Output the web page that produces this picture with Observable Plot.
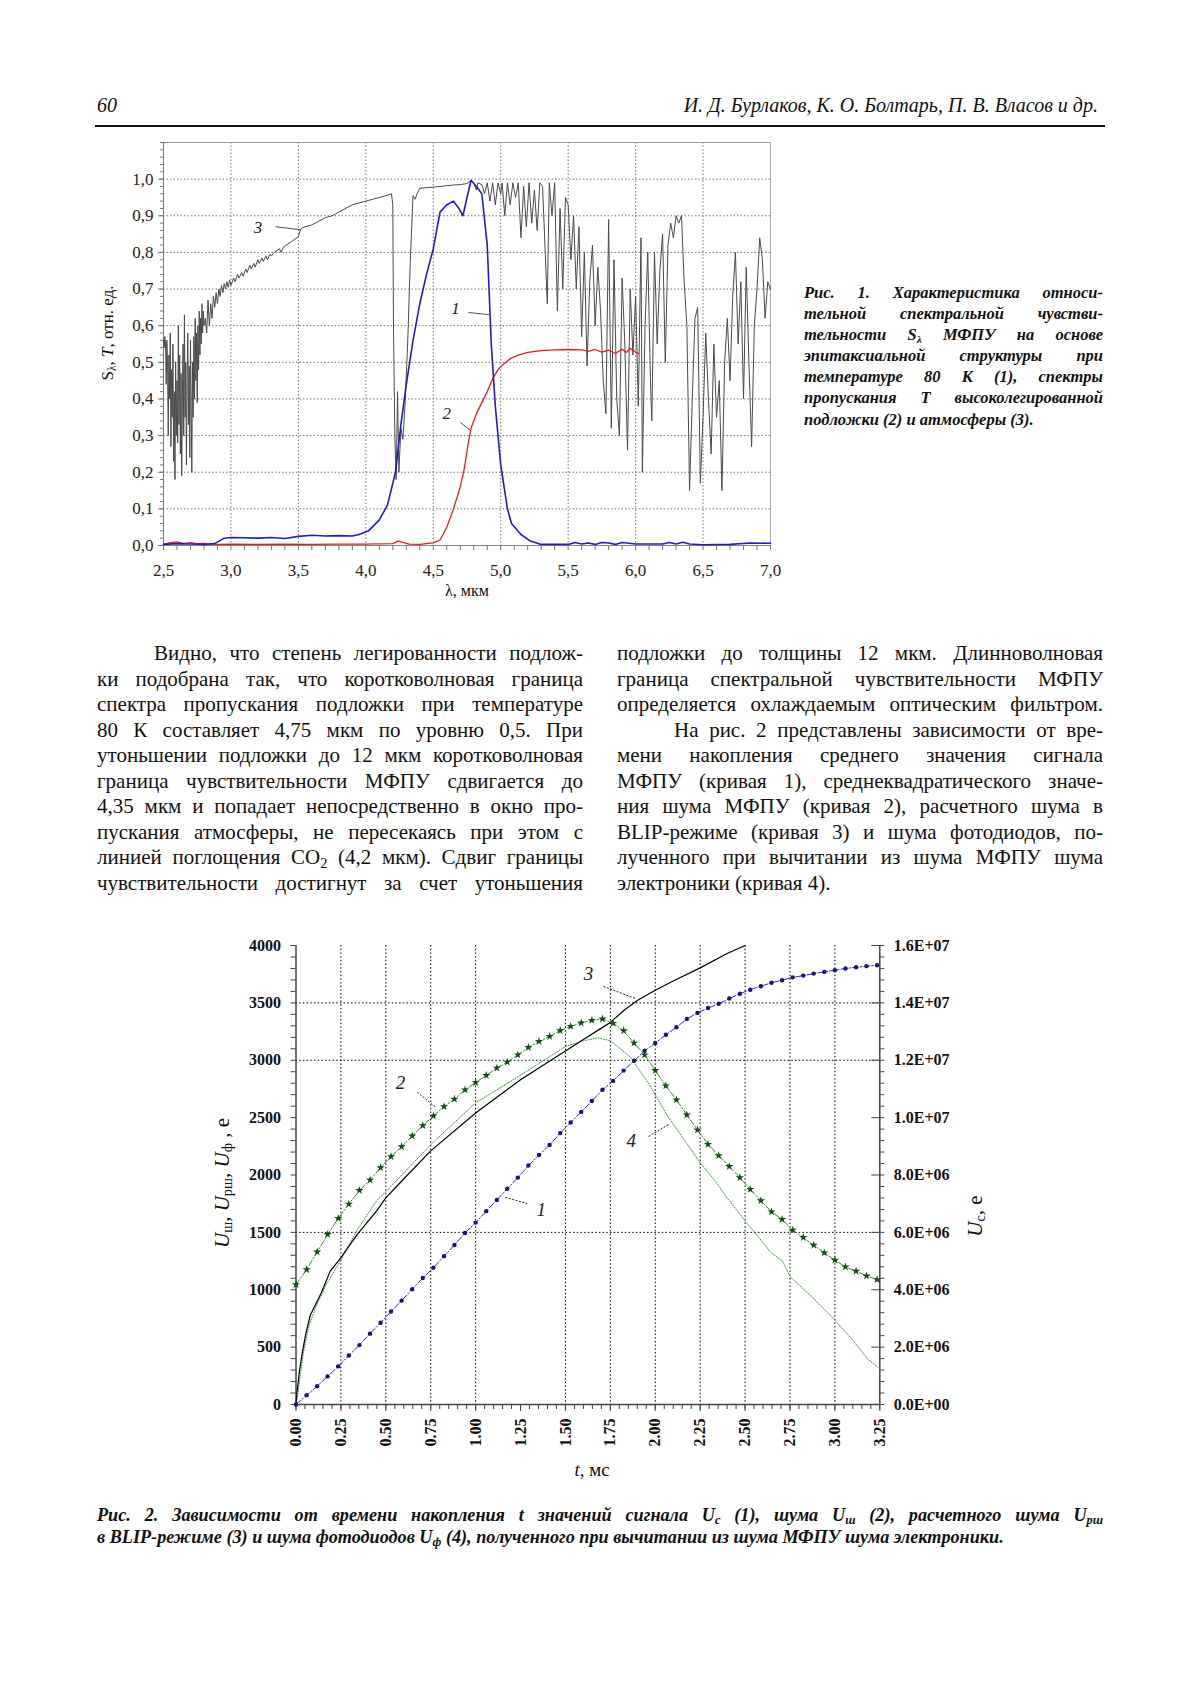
<!DOCTYPE html>
<html><head><meta charset="utf-8">
<script src="https://cdn.jsdelivr.net/npm/d3@7"></script>
<script src="https://cdn.jsdelivr.net/npm/@observablehq/plot@0.6"></script>
<style>
html,body{margin:0;padding:0;background:#fff;}
#page{position:relative;width:1200px;height:1698px;background:#fff;font-family:"Liberation Serif","Times New Roman",serif;color:#111;overflow:hidden;}
.abs{position:absolute;}
.hdr{font-style:italic;font-size:20px;line-height:20px;white-space:nowrap;}
.rule{position:absolute;left:95px;top:125px;width:1010px;height:1.5px;background:#111;}
.col{position:absolute;width:486px;font-size:21px;line-height:25.5px;}
.j{text-align:justify;text-align-last:justify;}
.l{text-align:left;}
.ind{padding-left:57px;}
.cap1{position:absolute;left:804px;top:282px;width:299px;font-size:16.5px;line-height:21.1px;font-weight:bold;font-style:italic;}
.cap2{position:absolute;left:97px;top:1505px;width:1006px;font-size:18.2px;line-height:21.5px;font-weight:bold;font-style:italic;}
.rot{position:absolute;white-space:nowrap;transform:translate(-50%,-50%) rotate(-90deg);}
sub{font-size:0.68em;vertical-align:-0.25em;line-height:0;}
.chart{position:absolute;}
</style></head>
<body><div id="page">
<div class="abs hdr" style="left:97px;top:95px;">60</div>
<div class="abs hdr" style="left:500px;top:95px;width:598px;text-align:right;">И. Д. Бурлаков, К. О. Болтарь, П. В. Власов и др.</div>
<div class="rule"></div>

<div id="chart1" class="chart" style="left:80px;top:120px;"></div>
<div class="rot" style="left:108px;top:333px;font-size:17px;">S<sub>λ</sub>, <i>T</i>, отн. ед.</div>
<div class="abs" style="left:467px;top:591px;transform:translate(-50%,-50%);font-size:16px;white-space:nowrap;">λ, мкм</div>

<div class="cap1">
<div class="j">Рис. 1. Характеристика относи-</div>
<div class="j">тельной спектральной чувстви-</div>
<div class="j">тельности S<sub>λ</sub> МФПУ на основе</div>
<div class="j">эпитаксиальной структуры при</div>
<div class="j">температуре 80 К (1), спектры</div>
<div class="j">пропускания T высоколегированной</div>
<div class="l">подложки (2) и атмосферы (3).</div>
</div>

<div class="col" style="left:97px;top:641px;">
<div class="j ind">Видно, что степень легированности подлож-</div>
<div class="j">ки подобрана так, что коротковолновая граница</div>
<div class="j">спектра пропускания подложки при температуре</div>
<div class="j">80 К составляет 4,75 мкм по уровню 0,5. При</div>
<div class="j">утоньшении подложки до 12 мкм коротковолновая</div>
<div class="j">граница чувствительности МФПУ сдвигается до</div>
<div class="j">4,35 мкм и попадает непосредственно в окно про-</div>
<div class="j">пускания атмосферы, не пересекаясь при этом с</div>
<div class="j">линией поглощения CO<sub>2</sub> (4,2 мкм). Сдвиг границы</div>
<div class="j">чувствительности достигнут за счет утоньшения</div>
</div>
<div class="col" style="left:617px;top:641px;">
<div class="j">подложки до толщины 12 мкм. Длинноволновая</div>
<div class="j">граница спектральной чувствительности МФПУ</div>
<div class="j">определяется охлаждаемым оптическим фильтром.</div>
<div class="j ind">На рис. 2 представлены зависимости от вре-</div>
<div class="j">мени накопления среднего значения сигнала</div>
<div class="j">МФПУ (кривая 1), среднеквадратического значе-</div>
<div class="j">ния шума МФПУ (кривая 2), расчетного шума в</div>
<div class="j">BLIP-режиме (кривая 3) и шума фотодиодов, по-</div>
<div class="j">лученного при вычитании из шума МФПУ шума</div>
<div class="l">электроники (кривая 4).</div>
</div>

<div id="chart2" class="chart" style="left:180px;top:920px;"></div>
<div class="rot" style="left:222px;top:1183px;font-size:21px;"><i>U</i><sub>ш</sub>, <i>U</i><sub>рш</sub>, <i>U</i><sub>ф</sub> , e</div>
<div class="rot" style="left:975px;top:1216px;font-size:21px;"><i>U</i><sub>с</sub>, e</div>
<div class="abs" style="left:592px;top:1470px;transform:translate(-50%,-50%);font-size:19px;white-space:nowrap;"><i>t</i>, мс</div>

<div class="cap2">
<div class="j">Рис. 2. Зависимости от времени накопления t значений сигнала U<sub>с</sub> (1), шума U<sub>ш</sub> (2), расчетного шума U<sub>рш</sub></div>
<div class="l">в BLIP-режиме (3) и шума фотодиодов U<sub>ф</sub> (4), полученного при вычитании из шума МФПУ шума электроники.</div>
</div>
</div>
<script>
// ---------- Chart 1 data ----------
const xTicks1 = [2.5,3.0,3.5,4.0,4.5,5.0,5.5,6.0,6.5,7.0];
const xTickLabels1 = ["2,5","3,0","3,5","4,0","4,5","5,0","5,5","6,0","6,5","7,0"];
const yTicks1 = [0,0.1,0.2,0.3,0.4,0.5,0.6,0.7,0.8,0.9,1.0];
const yTickLabels1 = ["0,0","0,1","0,2","0,3","0,4","0,5","0,6","0,7","0,8","0,9","1,0"];

// curve 1: spectral sensitivity S_lambda (blue)
const sensitivity = [[2.5,0.003],[2.6,0.005],[2.7,0.004],[2.8,0.003],[2.88,0.005],[2.95,0.02],[3.0,0.022],[3.1,0.021],[3.2,0.02],[3.3,0.022],[3.4,0.019],[3.5,0.025],[3.6,0.028],[3.7,0.026],[3.8,0.027],[3.9,0.026],[3.95,0.03],[4.02,0.04],[4.1,0.07],[4.16,0.11],[4.22,0.2],[4.26,0.33],[4.3,0.44],[4.35,0.56],[4.4,0.66],[4.45,0.74],[4.5,0.81],[4.55,0.91],[4.6,0.93],[4.65,0.94],[4.69,0.92],[4.72,0.9],[4.75,0.95],[4.78,0.997],[4.82,0.98],[4.86,0.96],[4.9,0.82],[4.93,0.55],[4.96,0.38],[5.0,0.22],[5.05,0.1],[5.08,0.06],[5.15,0.03],[5.22,0.012],[5.3,0.003],[5.5,0.003],[5.55,0.008],[5.6,0.004],[5.65,0.007],[5.7,0.003],[5.75,0.008],[5.8,0.007],[5.85,0.003],[5.9,0.008],[6.0,0.004],[6.2,0.004],[6.25,0.008],[6.3,0.004],[6.35,0.009],[6.4,0.004],[6.5,0.002],[6.7,0.003],[6.85,0.007],[7.0,0.006]];

// curve 2: substrate transmission T (red)
const substrate = [[2.5,0.004],[2.55,0.008],[2.6,0.01],[2.65,0.006],[2.7,0.008],[2.75,0.005],[2.8,0.006],[2.85,0.004],[2.9,0.003],[3.0,0.004],[3.2,0.003],[3.4,0.004],[3.6,0.003],[3.8,0.004],[4.0,0.004],[4.2,0.005],[4.24,0.012],[4.28,0.008],[4.32,0.004],[4.4,0.003],[4.45,0.005],[4.5,0.007],[4.55,0.015],[4.6,0.05],[4.65,0.1],[4.7,0.16],[4.73,0.21],[4.76,0.28],[4.78,0.32],[4.82,0.36],[4.86,0.39],[4.9,0.42],[4.94,0.455],[4.98,0.48],[5.02,0.495],[5.07,0.51],[5.12,0.518],[5.2,0.527],[5.3,0.532],[5.4,0.534],[5.5,0.535],[5.6,0.534],[5.65,0.53],[5.7,0.535],[5.75,0.528],[5.8,0.533],[5.85,0.524],[5.9,0.536],[5.93,0.527],[5.96,0.538],[6.0,0.528],[6.02,0.524]];

// curve 3: atmosphere transmission (gray)
const atmosphere = [[2.500,0.56],[2.505,0.54],[2.510,0.57],[2.515,0.55],[2.520,0.44],[2.525,0.56],[2.530,0.50],[2.535,0.30],[2.540,0.52],[2.545,0.40],[2.550,0.58],[2.555,0.27],[2.560,0.48],[2.565,0.35],[2.570,0.55],[2.575,0.23],[2.580,0.42],[2.585,0.18],[2.590,0.50],[2.595,0.30],[2.600,0.45],[2.605,0.28],[2.610,0.60],[2.615,0.33],[2.620,0.52],[2.625,0.25],[2.630,0.47],[2.635,0.19],[2.640,0.40],[2.645,0.55],[2.650,0.30],[2.655,0.63],[2.660,0.35],[2.665,0.50],[2.670,0.22],[2.675,0.45],[2.680,0.58],[2.685,0.33],[2.690,0.49],[2.695,0.24],[2.700,0.56],[2.705,0.38],[2.710,0.20],[2.715,0.50],[2.720,0.35],[2.725,0.57],[2.730,0.40],[2.735,0.62],[2.740,0.45],[2.745,0.58],[2.750,0.39],[2.755,0.60],[2.760,0.48],[2.765,0.64],[2.770,0.52],[2.775,0.62],[2.780,0.55],[2.785,0.66],[2.790,0.58],[2.795,0.64],[2.800,0.60],
[2.81,0.62],[2.82,0.58],[2.83,0.67],[2.84,0.60],[2.85,0.66],[2.86,0.62],[2.87,0.68],[2.88,0.65],[2.89,0.69],[2.90,0.66],[2.91,0.70],[2.92,0.68],[2.93,0.71],[2.94,0.69],[2.95,0.715],[2.96,0.70],[2.97,0.72],[2.98,0.705],[2.99,0.725],[3.00,0.71],[3.02,0.73],[3.03,0.72],[3.05,0.74],[3.06,0.73],[3.08,0.745],[3.09,0.735],[3.11,0.755],[3.12,0.745],[3.14,0.765],[3.15,0.755],[3.17,0.77],[3.18,0.76],[3.20,0.78],[3.21,0.77],[3.23,0.785],[3.24,0.775],[3.26,0.79],[3.27,0.78],[3.29,0.795],[3.30,0.79],[3.32,0.80],[3.34,0.805],[3.36,0.81],[3.37,0.80],[3.39,0.815],[3.41,0.82],[3.43,0.825],[3.45,0.83],[3.47,0.835],[3.49,0.84],[3.50,0.845],[3.52,0.865],[3.55,0.87],[3.60,0.875],[3.65,0.885],[3.70,0.895],[3.75,0.90],[3.80,0.91],[3.85,0.92],[3.90,0.93],[3.95,0.935],[4.00,0.94],[4.05,0.945],[4.10,0.95],[4.15,0.955],[4.19,0.96],
[4.20,0.93],[4.205,0.6],[4.215,0.3],[4.225,0.18],[4.235,0.42],[4.245,0.2],[4.26,0.32],[4.275,0.29],[4.29,0.38],[4.31,0.55],[4.33,0.78],[4.35,0.955],[4.365,0.945],[4.38,0.96],[4.40,0.975],[4.45,0.977],[4.50,0.978],[4.55,0.98],[4.60,0.982],[4.65,0.984],[4.70,0.985],[4.75,0.988],[4.78,0.997],[4.80,0.99],[4.82,0.97],[4.83,0.99],[4.86,0.985],[4.88,0.96],[4.90,0.99],[4.92,0.94],[4.94,0.99],[4.96,0.93],[4.98,0.99],[5.00,0.96],[5.01,0.99],[5.03,0.90],[5.05,0.99],[5.07,0.93],[5.09,0.99],[5.11,0.95],[5.13,0.99],[5.15,0.84],[5.17,0.98],[5.19,0.87],[5.21,0.99],[5.23,0.88],[5.25,0.97],[5.27,0.86],[5.29,0.99],[5.31,0.98],[5.33,0.80],[5.345,0.66],[5.36,0.99],[5.38,0.90],[5.40,0.99],[5.42,0.64],[5.44,0.92],[5.46,0.70],[5.48,0.95],[5.50,0.93],[5.52,0.78],[5.54,0.90],[5.56,0.70],[5.58,0.87],[5.60,0.57],[5.62,0.80],[5.64,0.49],[5.66,0.72],[5.68,0.82],[5.70,0.60],[5.72,0.76],[5.74,0.64],[5.76,0.45],[5.78,0.36],[5.80,0.89],[5.82,0.32],[5.84,0.78],[5.86,0.40],[5.88,0.30],[5.90,0.73],[5.92,0.55],[5.94,0.26],[5.96,0.70],[5.98,0.52],[6.00,0.68],[6.02,0.38],[6.04,0.84],[6.05,0.20],[6.07,0.60],[6.09,0.80],[6.11,0.45],[6.12,0.34],[6.14,0.80],[6.16,0.55],[6.18,0.75],[6.20,0.85],[6.22,0.50],[6.24,0.82],[6.26,0.88],[6.28,0.84],[6.30,0.90],[6.32,0.88],[6.34,0.90],[6.36,0.72],[6.38,0.60],[6.40,0.15],[6.42,0.40],[6.44,0.62],[6.46,0.65],[6.48,0.17],[6.50,0.35],[6.52,0.58],[6.54,0.40],[6.56,0.25],[6.58,0.55],[6.60,0.35],[6.62,0.45],[6.64,0.15],[6.66,0.50],[6.68,0.62],[6.70,0.45],[6.72,0.68],[6.74,0.80],[6.76,0.55],[6.78,0.72],[6.80,0.40],[6.82,0.76],[6.84,0.50],[6.86,0.27],[6.88,0.60],[6.90,0.70],[6.92,0.84],[6.94,0.78],[6.96,0.62],[6.98,0.72],[7.00,0.70]];

const labels1 = [{x:3.20,y:0.867,text:"3"},{x:4.665,y:0.646,text:"1"},{x:4.60,y:0.359,text:"2"}];
const leaders1 = [{x1:3.33,y1:0.87,x2:3.516,y2:0.862},{x1:4.761,y1:0.636,x2:4.915,y2:0.63},{x1:4.70,y1:0.336,x2:4.776,y2:0.314}];

// ---------- Chart 2 data ----------
const xTicks2 = [0,0.25,0.5,0.75,1.0,1.25,1.5,1.75,2.0,2.25,2.5,2.75,3.0,3.25];
const xTickLabels2 = ["0.00","0.25","0.50","0.75","1.00","1.25","1.50","1.75","2.00","2.25","2.50","2.75","3.00","3.25"];
const yTicks2 = [0,500,1000,1500,2000,2500,3000,3500,4000];
const yTickLabels2 = ["0","500","1000","1500","2000","2500","3000","3500","4000"];
const yRightLabels2 = ["0.0E+00","2.0E+06","4.0E+06","6.0E+06","8.0E+06","1.0E+07","1.2E+07","1.4E+07","1.6E+07"];
const gridT2 = [0.25,0.5,0.75,1.0,1.5,1.75,2.0,2.25,2.5,2.75,3.0];
const gridU2 = [1500,3000,3500];

// sampling times, ms
const tMs = [0.000,0.059,0.118,0.176,0.235,0.294,0.353,0.412,0.471,0.529,0.588,0.647,0.706,0.765,0.824,0.882,0.941,1.000,1.059,1.118,1.176,1.235,1.294,1.353,1.412,1.471,1.529,1.588,1.647,1.706,1.765,1.824,1.882,1.941,2.000,2.059,2.118,2.176,2.235,2.294,2.353,2.412,2.471,2.529,2.588,2.647,2.706,2.765,2.824,2.882,2.941,3.000,3.059,3.118,3.176,3.235];
// curve 1: signal U_c, millions of e (right axis)
const signalMillions = [0,0.32,0.64,0.98,1.33,1.71,2.07,2.47,2.85,3.24,3.62,4.02,4.41,4.77,5.17,5.56,5.98,6.34,6.74,7.13,7.52,7.91,8.33,8.70,9.05,9.46,9.83,10.20,10.58,10.97,11.28,11.64,11.98,12.33,12.60,12.89,13.15,13.44,13.65,13.82,13.97,14.15,14.32,14.46,14.58,14.70,14.79,14.89,14.95,15.02,15.08,15.14,15.20,15.24,15.28,15.31];
// curve 2: noise U_sh, e
const noiseE = [1045,1176,1330,1482,1622,1747,1866,1956,2064,2160,2247,2341,2431,2515,2597,2661,2742,2806,2868,2932,2984,3048,3112,3164,3208,3258,3296,3325,3348,3360,3322,3258,3150,3048,2911,2777,2655,2524,2393,2268,2170,2075,1977,1875,1776,1680,1613,1520,1456,1389,1322,1258,1199,1162,1121,1089];
// curve 3: BLIP noise U_rsh
const blip = [[0,0],[0.005,100],[0.02,300],[0.035,450],[0.055,620],[0.08,780],[0.14,970],[0.19,1160],[0.25,1280],[0.34,1480],[0.45,1690],[0.5,1800],[0.59,1950],[0.75,2210],[1.0,2540],[1.25,2830],[1.5,3080],[1.6,3180],[1.7,3280],[1.75,3330],[1.83,3440],[1.9,3520],[2.0,3610],[2.1,3690],[2.25,3805],[2.4,3930],[2.5,4000]];
// curve 4: photodiode noise U_f
const photodiode = [[0,0],[0.01,90],[0.025,270],[0.043,470],[0.07,675],[0.11,850],[0.17,1050],[0.25,1260],[0.34,1520],[0.45,1780],[0.51,1870],[0.75,2265],[1.0,2630],[1.25,2870],[1.5,3120],[1.6,3170],[1.68,3195],[1.75,3170],[1.79,3120],[1.86,3030],[1.97,2780],[2.07,2510],[2.16,2310],[2.25,2105],[2.33,1956],[2.4,1800],[2.5,1600],[2.59,1430],[2.64,1330],[2.71,1245],[2.75,1115],[2.87,940],[3.0,735],[3.1,560],[3.18,400],[3.25,310]];

const labels2 = [{t:1.629,v:3756,text:"3"},{t:0.582,v:2806,text:"2"},{t:1.866,v:2301,text:"4"},{t:1.365,v:1700,text:"1"}];
const leaders2 = [{t1:1.712,v1:3643,t2:1.890,v2:3538},{t1:0.675,v1:2722,t2:0.777,v2:2591},{t1:1.963,v1:2336,t2:2.074,v2:2440},{t1:1.166,v1:1804,t2:1.287,v2:1752}];

const RIGHT_PER_LEFT = 4000; // 1.6E+07 e at 4000 e

// ---------- helpers ----------
const lookup = (ticks, labels) => d => { const i = ticks.findIndex(v => Math.abs(v - d) < 1e-9); return i < 0 ? "" : labels[i]; };

// ---------- Chart 1 ----------
const minorX1 = d3.range(25, 71).map(v => v / 10);
const minorY1 = d3.range(0, 56).map(v => v / 50);
const chart1 = Plot.plot({
  width: 720, height: 500,
  marginLeft: 83, marginRight: 30, marginTop: 22, marginBottom: 75,
  x: {domain: [2.5, 7.0]},
  y: {domain: [0, 1.1]},
  style: {fontFamily: "'Liberation Serif', 'Times New Roman', serif", fontSize: "17px", color: "#222", background: "transparent", overflow: "visible"},
  marks: [
    Plot.gridX(xTicks1.slice(1, -1), {stroke: "#777", strokeOpacity: 1, strokeWidth: 1, strokeDasharray: "1.5,2"}),
    Plot.gridY(yTicks1.slice(1), {stroke: "#777", strokeOpacity: 1, strokeWidth: 1, strokeDasharray: "1.5,2"}),
    Plot.ruleX([7.0], {stroke: "#aaa"}),
    Plot.ruleY([1.1], {stroke: "#999"}),
    Plot.ruleX([2.5], {stroke: "#777"}),
    Plot.ruleY([0], {stroke: "#888"}),
    Plot.axisY(minorY1, {tickSize: 3, tickFormat: () => "", stroke: "#777", label: null}),
    Plot.axisY(yTicks1, {tickSize: 5, tickPadding: 5, tickFormat: lookup(yTicks1, yTickLabels1), stroke: "#777", label: null}),
    Plot.axisX(minorX1, {tickSize: 5, tickFormat: () => "", stroke: "#777", label: null}),
    Plot.axisX(xTicks1, {tickSize: 0, tickPadding: 18, tickFormat: lookup(xTicks1, xTickLabels1), label: null}),
    Plot.line(atmosphere, {stroke: "#4a4a4a", strokeWidth: 1}),
    Plot.line(substrate, {stroke: "#e02020", strokeWidth: 1.3}),
    Plot.line(sensitivity, {stroke: "#1f1fc0", strokeWidth: 1.6}),
    Plot.link(leaders1, {x1: "x1", y1: "y1", x2: "x2", y2: "y2", stroke: "#555", strokeWidth: 1}),
    Plot.text(labels1, {x: "x", y: "y", text: "text", fontStyle: "italic", fontSize: 17, fill: "#222"})
  ]
});
document.getElementById("chart1").appendChild(chart1);

// ---------- Chart 2 ----------
const signal = tMs.map((t, i) => ({t, uc: signalMillions[i] * 1e6}));
const noise = tMs.map((t, i) => ({t, u: noiseE[i]}));
const minorX2 = d3.range(0, 66).map(v => v / 20);
const minorY2 = d3.range(0, 41).map(v => v * 100);
const chart2 = Plot.plot({
  width: 830, height: 580,
  marginLeft: 115.5, marginRight: 130.7, marginTop: 25, marginBottom: 96,
  x: {domain: [0, 3.25]},
  y: {domain: [0, 4000]},
  style: {fontFamily: "'Liberation Serif', 'Times New Roman', serif", fontSize: "16px", fontWeight: "bold", color: "#111", background: "transparent", overflow: "visible"},
  marks: [
    Plot.gridX(gridT2, {stroke: "#000", strokeOpacity: 1, strokeWidth: 1, strokeDasharray: "1.5,2.2"}),
    Plot.gridY(gridU2, {stroke: "#000", strokeOpacity: 1, strokeWidth: 1, strokeDasharray: "1.5,2.2"}),
    Plot.ruleX([0], {stroke: "#444", strokeWidth: 1.5}),
    Plot.ruleX([3.25], {stroke: "#444", strokeWidth: 1.5}),
    Plot.ruleY([0], {stroke: "#444", strokeWidth: 1.5}),
    Plot.axisY(minorY2, {anchor: "left", tickSize: 5, tickFormat: () => "", stroke: "#444", label: null}),
    Plot.axisY(yTicks2, {anchor: "left", tickSize: 0, tickPadding: 15, tickFormat: lookup(yTicks2, yTickLabels2), label: null}),
    Plot.axisY(minorY2, {anchor: "right", tickSize: 4, tickFormat: () => "", stroke: "#444", label: null}),
    Plot.axisY(yTicks2, {anchor: "right", tickSize: -9, tickPadding: 23, tickFormat: lookup(yTicks2, yRightLabels2), stroke: "#444", label: null}),
    Plot.axisX(minorX2, {tickSize: 5, tickFormat: () => "", stroke: "#444", label: null}),
    Plot.axisX(xTicks2, {tickSize: 7, tickPadding: 7, tickRotate: -90, tickFormat: lookup(xTicks2, xTickLabels2), stroke: "#444", label: null}),
    Plot.line(photodiode, {stroke: "#2f9a2f", strokeWidth: 1, strokeDasharray: "1,1.6"}),
    Plot.line(blip, {stroke: "#000", strokeWidth: 1.2}),
    Plot.line(noise, {x: "t", y: "u", stroke: "#3a8a3a", strokeWidth: 1, strokeDasharray: "6,2,1.5,2"}),
    Plot.dot(noise, {x: "t", y: "u", symbol: "star", r: 2.6, fill: "#124d12", stroke: "none"}),
    Plot.line(signal, {x: "t", y: d => d.uc / RIGHT_PER_LEFT, stroke: "#2a2ad0", strokeWidth: 1, strokeDasharray: "6,2,1.5,2"}),
    Plot.dot(signal, {x: "t", y: d => d.uc / RIGHT_PER_LEFT, r: 2.2, fill: "#15157a", stroke: "none"}),
    Plot.link(leaders2, {x1: "t1", y1: "v1", x2: "t2", y2: "v2", stroke: "#222", strokeWidth: 1, strokeDasharray: "2,1.5"}),
    Plot.text(labels2, {x: "t", y: "v", text: "text", fontStyle: "italic", fontWeight: "normal", fontSize: 19, fill: "#222"})
  ]
});
document.getElementById("chart2").appendChild(chart2);
</script>
</body></html>
